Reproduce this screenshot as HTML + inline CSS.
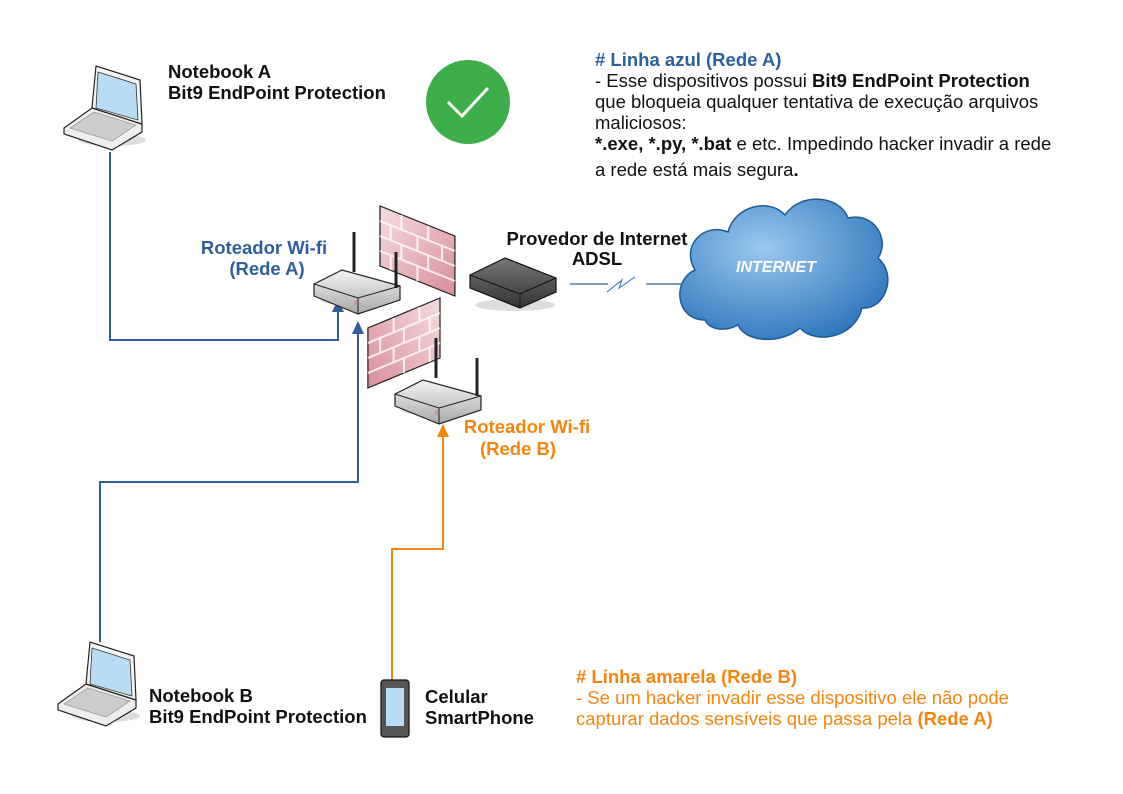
<!DOCTYPE html>
<html><head><meta charset="utf-8"><style>
html,body{margin:0;padding:0;background:#fff}
svg{display:block}
text{font-family:"Liberation Sans",sans-serif}
</style></head><body>
<svg width="1123" height="794" viewBox="0 0 1123 794" xmlns="http://www.w3.org/2000/svg">
<defs>
<linearGradient id="brick" x1="0" y1="0" x2="1" y2="1"><stop offset="0" stop-color="#f6dde0"/><stop offset="1" stop-color="#d88d98"/></linearGradient>
<linearGradient id="rt" x1="0" y1="0" x2="0" y2="1"><stop offset="0" stop-color="#f4f4f4"/><stop offset="1" stop-color="#a8a8a8"/></linearGradient>
<linearGradient id="md" x1="0" y1="0" x2="0" y2="1"><stop offset="0" stop-color="#777"/><stop offset="1" stop-color="#333"/></linearGradient>
<radialGradient id="cl" cx="0.4" cy="0.35" r="0.7"><stop offset="0" stop-color="#9ac8ee"/><stop offset="1" stop-color="#2f77bd"/></radialGradient>
<g id="laptop">
<ellipse cx="48" cy="74" rx="34" ry="6" fill="#ddd"/>
<path d="M0,62 L28,42 L78,58 L78,66 L48,84 L0,68 Z" fill="#eee" stroke="#222" stroke-width="1.2"/>
<path d="M6,62 L30,46 L72,59 L48,75 Z" fill="#ccc" stroke="#888" stroke-width="0.6"/>
<path d="M28,42 L32,0 L76,14 L78,58 Z" fill="#f4f4f4" stroke="#222" stroke-width="1.2"/>
<path d="M34,6 L72,18 L74,54 L32,42 Z" fill="#b8dcf3" stroke="#333" stroke-width="0.8"/>
</g>
<g id="router">
<ellipse cx="45" cy="44" rx="38" ry="6" fill="#ddd"/>
<path d="M0,28 L28,14 L86,30 L86,44 L44,58 L0,40 Z" fill="url(#rt)" stroke="#222" stroke-width="1.2"/>
<path d="M0,28 L44,42 L86,30 M44,42 L44,58" fill="none" stroke="#222" stroke-width="1"/>
<rect x="40" y="44" width="3" height="5" fill="#c99"/>
</g>
<g id="wall">
<path d="M0,0 L70,30 L70,90 L0,60 Z" fill="url(#brick)" stroke="#222" stroke-width="1.2"/>
<path d="M0,15 L70,45 M0,30 L70,60 M0,45 L70,75 M20,9 L20,24 M45,20 L45,35 M10,19 L10,34 M35,30 L35,45 M58,40 L58,55 M20,39 L20,54 M45,50 L45,65 M10,49 L10,64 M35,60 L35,75" stroke="#fff" stroke-width="2" opacity="0.8"/>
</g>
</defs>

<!-- connectors -->
<polyline points="110,152 110,340 338,340 338,310" fill="none" stroke="#2f5f9a" stroke-width="2"/>
<path d="M332,312 L338,299 L344,312 Z" fill="#2f5f9a"/>
<polyline points="100,642 100,482 358,482 358,332" fill="none" stroke="#2f5f9a" stroke-width="2"/>
<path d="M352,334 L358,321 L364,334 Z" fill="#2f5f9a"/>
<polyline points="392,680 392,549 443,549 443,434" fill="none" stroke="#f5850f" stroke-width="2"/>
<path d="M437,437 L443,424 L449,437 Z" fill="#f5850f"/>

<!-- laptops -->
<use href="#laptop" transform="translate(64,66)"/>
<use href="#laptop" transform="translate(58,642)"/>

<!-- check -->
<circle cx="468" cy="102" r="42" fill="#3eae4b"/>
<polyline points="448,102 462,116 488,88" fill="none" stroke="#fff" stroke-width="3"/>

<!-- devices -->
<use href="#wall" transform="translate(380,206) scale(1.07,1)"/>
<line x1="354" y1="232" x2="354" y2="272" stroke="#222" stroke-width="3"/>
<use href="#router" transform="translate(314,256)"/>
<line x1="396" y1="252" x2="396" y2="288" stroke="#222" stroke-width="3"/>
<!-- modem -->
<ellipse cx="515" cy="305" rx="40" ry="6" fill="#ddd"/>
<path d="M470,275 L505,258 L556,278 L556,292 L520,308 L470,288 Z" fill="url(#md)" stroke="#111" stroke-width="1.2"/>
<path d="M470,275 L520,294 L556,278 M520,294 L520,308" fill="none" stroke="#111"/>
<use href="#wall" transform="translate(368,298) translate(72,0) scale(-1.03,1)"/>
<line x1="436" y1="338" x2="436" y2="378" stroke="#222" stroke-width="3"/>
<use href="#router" transform="translate(395,366)"/>
<line x1="477" y1="358" x2="477" y2="396" stroke="#222" stroke-width="3"/>

<!-- adsl link -->
<polyline points="570,284 608,284" fill="none" stroke="#2f5f9a" stroke-width="1.3"/>
<polyline points="607,292 622,280 619,288 635,277" fill="none" stroke="#4f8fd0" stroke-width="1.3"/>
<polyline points="646,284 682,284" fill="none" stroke="#2f5f9a" stroke-width="1.3"/>

<!-- cloud -->
<path d="M705,320 C675,320 672,280 695,270 C680,245 705,222 728,232 C735,205 770,198 785,215 C800,192 840,195 848,218 C875,212 890,240 878,258 C898,275 885,310 862,308 C855,338 815,345 800,328 C780,345 745,342 738,325 C725,332 710,330 705,320 Z" fill="url(#cl)" stroke="#1f5a95" stroke-width="1.5"/>
<text x="776" y="272" font-size="16" font-style="italic" font-weight="bold" fill="#fff" text-anchor="middle">INTERNET</text>

<!-- phone -->
<rect x="381" y="680" width="28" height="57" rx="3" fill="#555" stroke="#111" stroke-width="1.2"/>
<rect x="386" y="688" width="18" height="38" fill="#b8dcf3"/>

<!-- labels -->
<g font-size="18.5" font-weight="bold" fill="#111">
<text x="168" y="78">Notebook A</text>
<text x="168" y="99">Bit9 EndPoint Protection</text>
<text x="149" y="702">Notebook B</text>
<text x="149" y="723">Bit9 EndPoint Protection</text>
<text x="425" y="703">Celular</text>
<text x="425" y="724">SmartPhone</text>
<text x="597" y="245" text-anchor="middle">Provedor de Internet</text>
<text x="597" y="265" text-anchor="middle">ADSL</text>
</g>
<g font-size="18.5" font-weight="bold" fill="#2f5f9a" text-anchor="middle">
<text x="264" y="254">Roteador Wi-fi</text>
<text x="267" y="275">(Rede A)</text>
</g>
<g font-size="18.5" font-weight="bold" fill="#f5850f" text-anchor="middle">
<text x="527" y="433">Roteador Wi-fi</text>
<text x="518" y="455">(Rede B)</text>
</g>

<g font-size="18.5" fill="#111">
<text x="595" y="66" font-weight="bold" fill="#2f5f9a"># Linha azul (Rede A)</text>
<text x="595" y="87">- Esse dispositivos possui <tspan font-weight="bold">Bit9 EndPoint Protection</tspan></text>
<text x="595" y="108">que bloqueia qualquer tentativa de execução arquivos</text>
<text x="595" y="129">maliciosos:</text>
<text x="595" y="150"><tspan font-weight="bold">*.exe, *.py, *.bat</tspan> e etc. Impedindo hacker invadir a rede</text>
<text x="595" y="176">a rede está mais segura<tspan font-weight="bold">.</tspan></text>
</g>
<g font-size="18.5" fill="#f5850f">
<text x="576" y="683" font-weight="bold"># Linha amarela (Rede B)</text>
<text x="576" y="704">- Se um hacker invadir esse dispositivo ele não pode</text>
<text x="576" y="725">capturar dados sensíveis que passa pela <tspan font-weight="bold">(Rede A)</tspan></text>
</g>
</svg>
</body></html>
